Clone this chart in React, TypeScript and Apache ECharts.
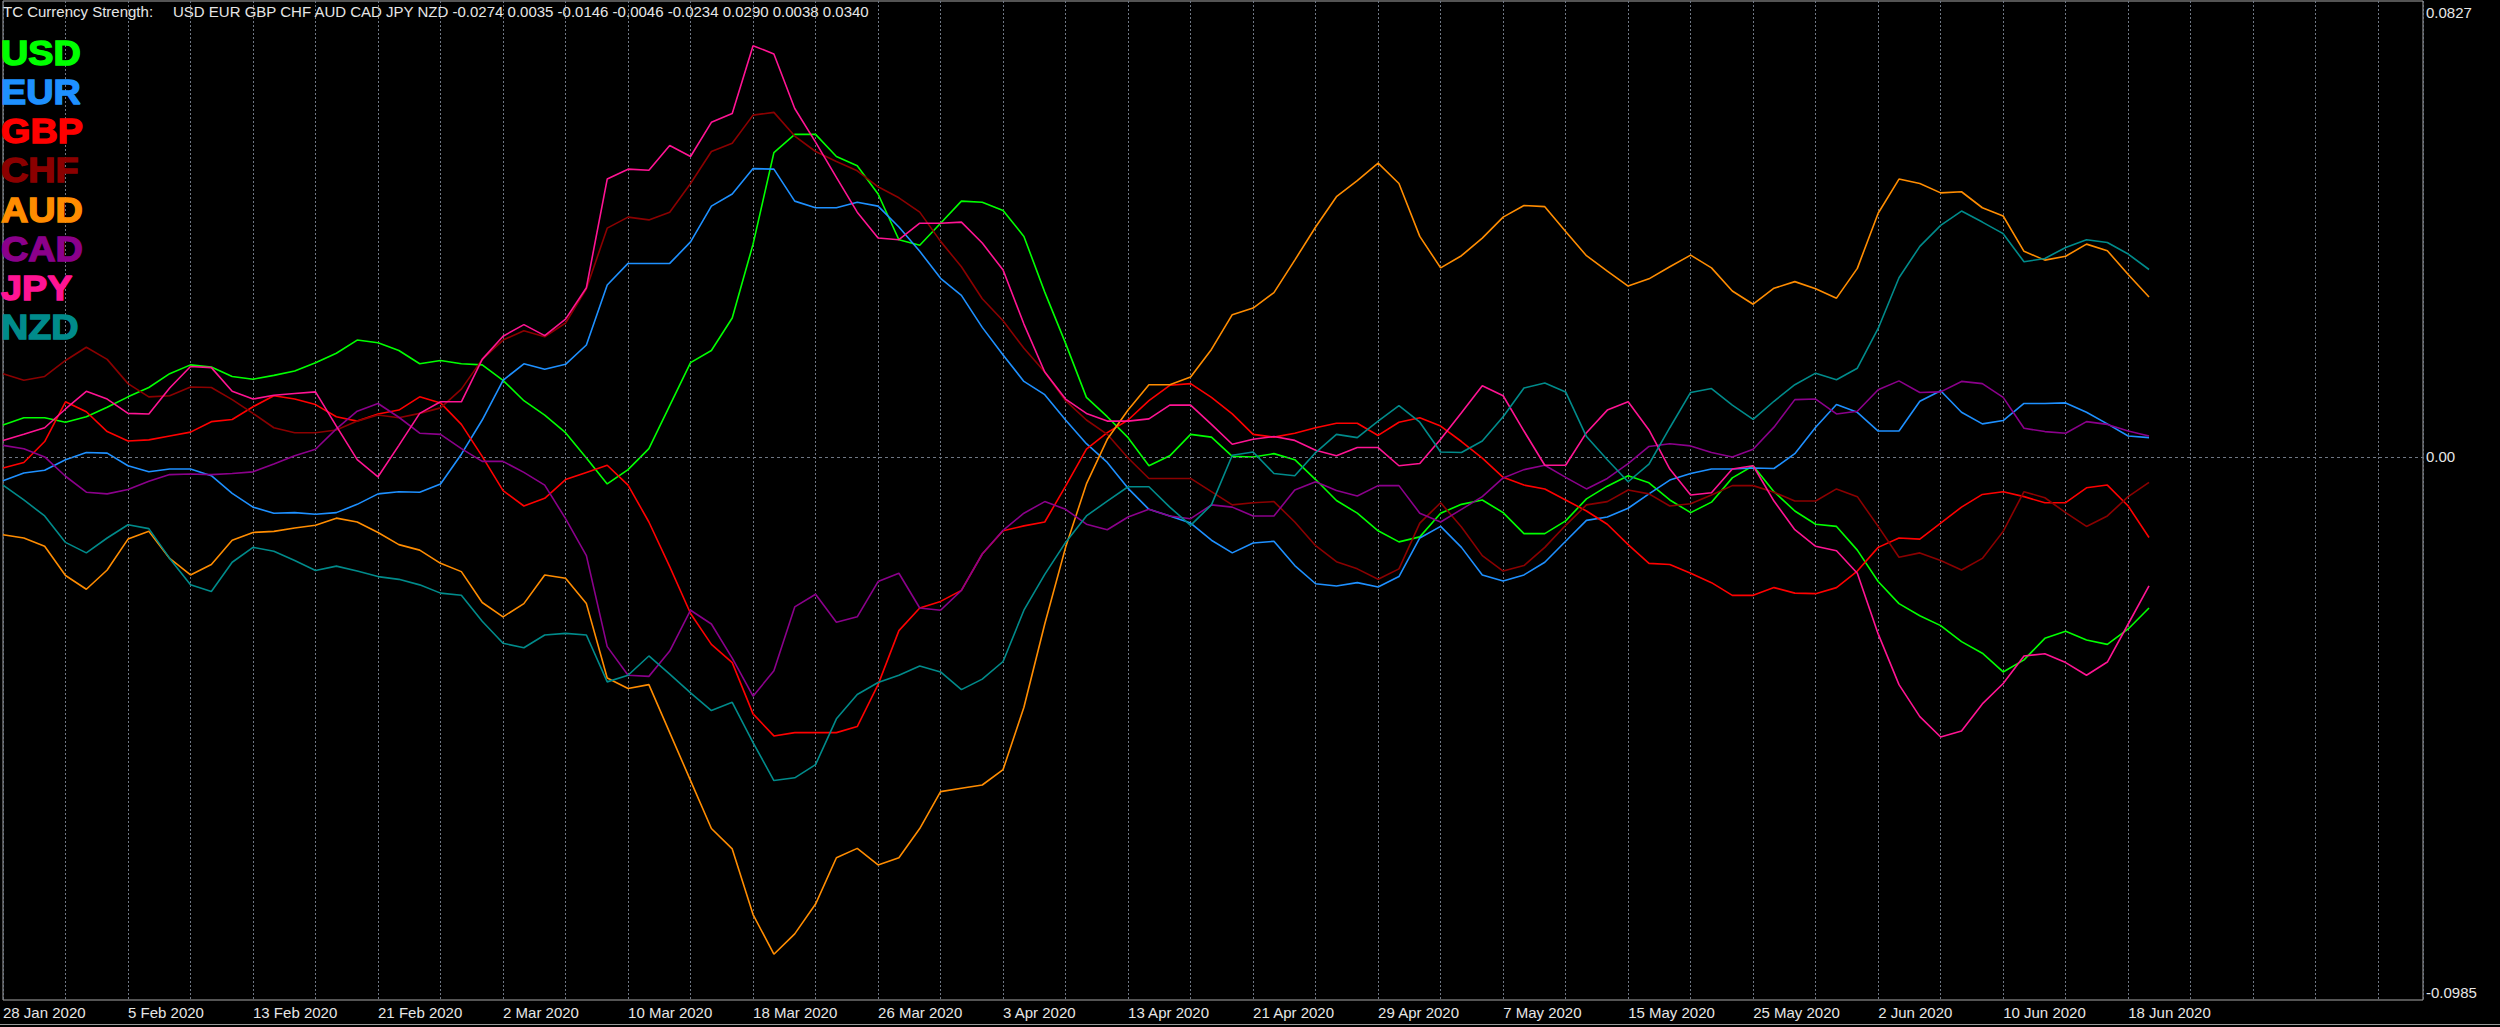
import React, { useEffect, useRef } from "react";
import * as echarts from "echarts";

const dateLabels = [
  "28 Jan 2020", "5 Feb 2020", "13 Feb 2020", "21 Feb 2020", "2 Mar 2020", "10 Mar 2020",
  "18 Mar 2020", "26 Mar 2020", "3 Apr 2020", "13 Apr 2020", "21 Apr 2020", "29 Apr 2020",
  "7 May 2020", "15 May 2020", "25 May 2020", "2 Jun 2020", "10 Jun 2020", "18 Jun 2020",
];

const currencies = ["USD", "EUR", "GBP", "CHF", "AUD", "CAD", "JPY", "NZD"];
const colors = ["#00FF00", "#1E90FF", "#FF0000", "#8B0000", "#FF8C00", "#8B008B", "#FF1493", "#008B8B"];
const headerTitle = "TC Currency Strength:";
const headerValues = "USD EUR GBP CHF AUD CAD JPY NZD -0.0274 0.0035 -0.0146 -0.0046 -0.0234 0.0290 0.0038 0.0340";

const usd = [0.0058, 0.0071, 0.0071, 0.0063, 0.0073, 0.0090, 0.0109, 0.0126, 0.0151, 0.0167,
  0.0163, 0.0146, 0.0141, 0.0148, 0.0156, 0.0171, 0.0188, 0.0212, 0.0207, 0.0193,
  0.0169, 0.0175, 0.0169, 0.0167, 0.0139, 0.0102, 0.0076, 0.0044, -0.0002, -0.0049,
  -0.0023, 0.0015, 0.0093, 0.0171, 0.0193, 0.0252, 0.0386, 0.0552, 0.0585, 0.0585,
  0.0545, 0.0528, 0.0477, 0.0394, 0.0384, 0.0424, 0.0464, 0.0462, 0.0447, 0.0400,
  0.0299, 0.0206, 0.0108, 0.0073, 0.0035, -0.0016, 0.0002, 0.0041, 0.0036, 0.0001,
  0.0000, 0.0006, -0.0005, -0.0041, -0.0079, -0.0102, -0.0134, -0.0154, -0.0145, -0.0102,
  -0.0086, -0.0078, -0.0101, -0.0139, -0.0139, -0.0116, -0.0076, -0.0053, -0.0034, -0.0047,
  -0.0078, -0.0101, -0.0082, -0.0038, -0.0016, -0.0063, -0.0098, -0.0122, -0.0126, -0.0169,
  -0.0226, -0.0266, -0.0288, -0.0306, -0.0335, -0.0356, -0.0390, -0.0368, -0.0329, -0.0316,
  -0.0332, -0.0340, -0.0312, -0.0274];

const eur = [-0.0043, -0.0029, -0.0024, -0.0005, 0.0008, 0.0007, -0.0016, -0.0027, -0.0022, -0.0022,
  -0.0034, -0.0066, -0.0091, -0.0102, -0.0101, -0.0104, -0.0101, -0.0086, -0.0067, -0.0063,
  -0.0064, -0.0049, 0.0005, 0.0067, 0.0139, 0.0169, 0.0159, 0.0168, 0.0203, 0.0312,
  0.0351, 0.0351, 0.0351, 0.0390, 0.0455, 0.0477, 0.0523, 0.0522, 0.0464, 0.0452,
  0.0452, 0.0462, 0.0455, 0.0417, 0.0373, 0.0324, 0.0293, 0.0235, 0.0185, 0.0137,
  0.0113, 0.0067, 0.0024, -0.0010, -0.0057, -0.0095, -0.0107, -0.0120, -0.0151, -0.0174,
  -0.0156, -0.0153, -0.0197, -0.0230, -0.0234, -0.0228, -0.0236, -0.0217, -0.0147, -0.0126,
  -0.0164, -0.0214, -0.0225, -0.0214, -0.0191, -0.0153, -0.0115, -0.0109, -0.0093, -0.0067,
  -0.0042, -0.0030, -0.0022, -0.0022, -0.0020, -0.0021, 0.0006, 0.0054, 0.0095, 0.0081,
  0.0047, 0.0047, 0.0101, 0.0120, 0.0081, 0.0060, 0.0066, 0.0097, 0.0097, 0.0098,
  0.0081, 0.0060, 0.0038, 0.0035];

const gbp = [-0.0020, -0.0010, 0.0028, 0.0100, 0.0082, 0.0046, 0.0029, 0.0031, 0.0038, 0.0045,
  0.0064, 0.0068, 0.0091, 0.0111, 0.0105, 0.0095, 0.0073, 0.0065, 0.0078, 0.0085,
  0.0109, 0.0098, 0.0059, 0.0001, -0.0061, -0.0089, -0.0075, -0.0041, -0.0028, -0.0015,
  -0.0051, -0.0118, -0.0199, -0.0284, -0.0340, -0.0373, -0.0466, -0.0506, -0.0500, -0.0500,
  -0.0500, -0.0489, -0.0413, -0.0315, -0.0274, -0.0262, -0.0242, -0.0176, -0.0134, -0.0125,
  -0.0118, -0.0053, 0.0014, 0.0044, 0.0067, 0.0102, 0.0130, 0.0133, 0.0108, 0.0078,
  0.0041, 0.0036, 0.0043, 0.0053, 0.0061, 0.0061, 0.0039, 0.0063, 0.0071, 0.0056,
  0.0028, -0.0002, -0.0037, -0.0051, -0.0058, -0.0078, -0.0098, -0.0122, -0.0159, -0.0193,
  -0.0195, -0.0211, -0.0228, -0.0251, -0.0251, -0.0237, -0.0247, -0.0248, -0.0237, -0.0207,
  -0.0164, -0.0147, -0.0149, -0.0120, -0.0091, -0.0068, -0.0063, -0.0072, -0.0083, -0.0083,
  -0.0056, -0.0051, -0.0089, -0.0146];

const chf = [0.0151, 0.0139, 0.0146, 0.0175, 0.0199, 0.0177, 0.0133, 0.0109, 0.0111, 0.0127,
  0.0126, 0.0104, 0.0079, 0.0053, 0.0044, 0.0044, 0.0049, 0.0065, 0.0076, 0.0071,
  0.0079, 0.0089, 0.0123, 0.0177, 0.0212, 0.0229, 0.0218, 0.0243, 0.0305, 0.0415,
  0.0435, 0.0430, 0.0444, 0.0496, 0.0554, 0.0569, 0.0620, 0.0625, 0.0582, 0.0554,
  0.0536, 0.0519, 0.0490, 0.0470, 0.0444, 0.0391, 0.0345, 0.0287, 0.0247, 0.0197,
  0.0154, 0.0102, 0.0067, 0.0041, -0.0002, -0.0039, -0.0039, -0.0039, -0.0063, -0.0087,
  -0.0083, -0.0081, -0.0118, -0.0161, -0.0190, -0.0203, -0.0222, -0.0203, -0.0120, -0.0083,
  -0.0127, -0.0179, -0.0207, -0.0197, -0.0164, -0.0124, -0.0087, -0.0081, -0.0060, -0.0067,
  -0.0089, -0.0085, -0.0069, -0.0052, -0.0052, -0.0064, -0.0080, -0.0080, -0.0058, -0.0072,
  -0.0126, -0.0182, -0.0174, -0.0188, -0.0205, -0.0184, -0.0135, -0.0063, -0.0074, -0.0101,
  -0.0126, -0.0107, -0.0072, -0.0046];

const aud = [-0.0141, -0.0147, -0.0162, -0.0215, -0.0240, -0.0205, -0.0149, -0.0135, -0.0184, -0.0214,
  -0.0195, -0.0151, -0.0137, -0.0135, -0.0129, -0.0124, -0.0111, -0.0118, -0.0137, -0.0159,
  -0.0169, -0.0193, -0.0208, -0.0264, -0.0290, -0.0266, -0.0214, -0.0220, -0.0266, -0.0401,
  -0.0420, -0.0413, -0.0500, -0.0587, -0.0674, -0.0711, -0.0830, -0.0902, -0.0865, -0.0811,
  -0.0727, -0.0710, -0.0740, -0.0727, -0.0674, -0.0607, -0.0601, -0.0595, -0.0567, -0.0454,
  -0.0303, -0.0164, -0.0049, 0.0032, 0.0085, 0.0131, 0.0131, 0.0145, 0.0195, 0.0258,
  0.0270, 0.0298, 0.0357, 0.0417, 0.0472, 0.0501, 0.0533, 0.0496, 0.0400, 0.0343,
  0.0365, 0.0397, 0.0435, 0.0456, 0.0454, 0.0409, 0.0365, 0.0337, 0.0310, 0.0323,
  0.0345, 0.0366, 0.0343, 0.0301, 0.0277, 0.0306, 0.0318, 0.0305, 0.0288, 0.0342,
  0.0442, 0.0504, 0.0496, 0.0479, 0.0481, 0.0452, 0.0437, 0.0373, 0.0357, 0.0364,
  0.0386, 0.0374, 0.0331, 0.0290];

const cad = [0.0021, 0.0015, 0.0000, -0.0035, -0.0064, -0.0067, -0.0059, -0.0044, -0.0032, -0.0031,
  -0.0032, -0.0030, -0.0027, -0.0013, 0.0002, 0.0014, 0.0051, 0.0083, 0.0097, 0.0072,
  0.0043, 0.0041, 0.0015, -0.0008, -0.0008, -0.0028, -0.0051, -0.0112, -0.0179, -0.0344,
  -0.0396, -0.0398, -0.0352, -0.0278, -0.0303, -0.0365, -0.0434, -0.0388, -0.0272, -0.0249,
  -0.0300, -0.0290, -0.0226, -0.0211, -0.0274, -0.0278, -0.0242, -0.0176, -0.0133, -0.0102,
  -0.0081, -0.0095, -0.0122, -0.0132, -0.0109, -0.0095, -0.0107, -0.0112, -0.0087, -0.0091,
  -0.0107, -0.0107, -0.0060, -0.0045, -0.0061, -0.0071, -0.0052, -0.0052, -0.0102, -0.0118,
  -0.0095, -0.0072, -0.0038, -0.0023, -0.0015, -0.0037, -0.0058, -0.0039, -0.0012, 0.0019,
  0.0024, 0.0020, 0.0008, 0.0000, 0.0014, 0.0054, 0.0104, 0.0105, 0.0078, 0.0083,
  0.0122, 0.0138, 0.0117, 0.0118, 0.0137, 0.0133, 0.0108, 0.0052, 0.0046, 0.0043,
  0.0064, 0.0059, 0.0047, 0.0038];

const jpy = [0.0030, 0.0041, 0.0053, 0.0087, 0.0119, 0.0105, 0.0079, 0.0078, 0.0125, 0.0164,
  0.0162, 0.0119, 0.0105, 0.0112, 0.0115, 0.0118, 0.0056, -0.0005, -0.0036, 0.0021,
  0.0079, 0.0100, 0.0100, 0.0177, 0.0219, 0.0240, 0.0220, 0.0250, 0.0307, 0.0504,
  0.0522, 0.0520, 0.0565, 0.0545, 0.0607, 0.0623, 0.0746, 0.0731, 0.0632, 0.0571,
  0.0507, 0.0444, 0.0397, 0.0394, 0.0424, 0.0424, 0.0426, 0.0388, 0.0339, 0.0241,
  0.0154, 0.0105, 0.0079, 0.0065, 0.0065, 0.0069, 0.0094, 0.0094, 0.0059, 0.0023,
  0.0032, 0.0037, 0.0030, 0.0012, 0.0002, 0.0017, 0.0017, -0.0016, -0.0012, 0.0032,
  0.0080, 0.0129, 0.0111, 0.0047, -0.0015, -0.0015, 0.0044, 0.0085, 0.0100, 0.0049,
  -0.0022, -0.0069, -0.0065, -0.0022, -0.0016, -0.0080, -0.0132, -0.0162, -0.0170, -0.0211,
  -0.0321, -0.0413, -0.0471, -0.0508, -0.0497, -0.0448, -0.0411, -0.0361, -0.0357, -0.0373,
  -0.0396, -0.0372, -0.0303, -0.0234];

const nzd = [-0.0051, -0.0078, -0.0107, -0.0155, -0.0174, -0.0147, -0.0123, -0.0130, -0.0184, -0.0232,
  -0.0244, -0.0191, -0.0164, -0.0171, -0.0188, -0.0206, -0.0198, -0.0207, -0.0217, -0.0222,
  -0.0232, -0.0247, -0.0251, -0.0298, -0.0338, -0.0346, -0.0323, -0.0320, -0.0323, -0.0408,
  -0.0396, -0.0361, -0.0394, -0.0428, -0.0460, -0.0445, -0.0518, -0.0587, -0.0582, -0.0558,
  -0.0475, -0.0431, -0.0409, -0.0396, -0.0379, -0.0390, -0.0422, -0.0403, -0.0371, -0.0278,
  -0.0213, -0.0155, -0.0107, -0.0080, -0.0054, -0.0054, -0.0091, -0.0124, -0.0087, 0.0003,
  0.0009, -0.0030, -0.0034, 0.0008, 0.0041, 0.0035, 0.0065, 0.0093, 0.0063, 0.0009,
  0.0008, 0.0029, 0.0073, 0.0125, 0.0134, 0.0118, 0.0037, -0.0005, -0.0045, -0.0013,
  0.0053, 0.0117, 0.0124, 0.0094, 0.0068, 0.0101, 0.0131, 0.0152, 0.0140, 0.0161,
  0.0233, 0.0325, 0.0382, 0.0420, 0.0446, 0.0426, 0.0405, 0.0354, 0.0360, 0.0380,
  0.0394, 0.0389, 0.0368, 0.0340];

const yMin = -0.0985;
const yMax = 0.0827;
const xMax = 116.15;
const FONT = '"Liberation Sans", Arial, sans-serif';
const TEXT = "#e6e6e6";
const GRIDC = "#6f7784";

export default function App() {
  const ref = useRef<HTMLDivElement>(null);
  useEffect(() => {
    document.body.style.margin = "0";
    document.body.style.background = "#000";
    const chart = echarts.init(ref.current as HTMLDivElement, null, { renderer: "svg" });
    const all = [usd, eur, gbp, chf, aud, cad, jpy, nzd];

    const series: any[] = all.map((arr, idx) => ({
      type: "line",
      name: currencies[idx],
      data: arr.map((v, i) => [i, v]),
      showSymbol: false,
      symbol: "none",
      z: 3 + idx,
      lineStyle: { width: 1.6, color: colors[idx] },
      itemStyle: { color: colors[idx] },
      emphasis: { disabled: true },
    }));
    series[0].markLine = {
      silent: true,
      symbol: ["none", "none"],
      label: { show: false },
      lineStyle: { color: GRIDC, type: [3, 3], width: 1 },
      data: [{ yAxis: 0 }],
    };

    const graphic: any[] = [
      {
        type: "text",
        x: 3,
        y: 11,
        style: { text: headerTitle, fill: TEXT, font: `15px ${FONT}`, verticalAlign: "middle", textVerticalAlign: "middle" },
      },
      {
        type: "text",
        x: 173,
        y: 11,
        style: { text: headerValues, fill: TEXT, font: `15px ${FONT}`, verticalAlign: "middle", textVerticalAlign: "middle" },
      },
      {
        type: "line",
        shape: { x1: 0, y1: 1024.5, x2: 2500, y2: 1024.5 },
        style: { stroke: "#9a9a9a", lineWidth: 1 },
      },
    ];
    currencies.forEach((c, i) => {
      graphic.push({
        type: "text",
        x: 1,
        y: 53 + i * 39.15,
        scaleX: 1.08,
        z: 100,
        style: {
          text: c,
          fill: colors[i],
          stroke: colors[i],
          lineWidth: 1.4,
          font: `bold 35px ${FONT}`,
          verticalAlign: "middle",
          textVerticalAlign: "middle",
        },
      });
    });

    chart.setOption({
      animation: false,
      backgroundColor: "#000000",
      grid: {
        left: 0,
        top: 1,
        right: 77,
        bottom: 27,
        show: true,
        borderColor: "#a8a8a8",
        borderWidth: 1,
        backgroundColor: "#000000",
      },
      xAxis: {
        type: "value",
        min: 0,
        max: xMax,
        interval: 3,
        axisLine: { show: false },
        axisTick: { show: false },
        splitLine: { show: true, lineStyle: { color: GRIDC, type: [2, 2], width: 1 } },
        axisLabel: {
          show: true,
          color: TEXT,
          fontSize: 15,
          fontFamily: FONT,
          align: "left",
          margin: 5,
          showMinLabel: true,
          showMaxLabel: true,
          hideOverlap: false,
          formatter: (v: number) => {
            const i = Math.round(v);
            if (Math.abs(v - i) > 1e-6 || i % 6 !== 0) return "";
            return dateLabels[i / 6] ?? "";
          },
        },
      },
      yAxis: {
        type: "value",
        position: "right",
        min: yMin,
        max: yMax,
        interval: 0.0985,
        axisLine: { show: false },
        axisTick: { show: false },
        splitLine: { show: false },
        axisLabel: {
          show: true,
          margin: 3,
          color: TEXT,
          fontSize: 15,
          fontFamily: FONT,
          showMinLabel: true,
          showMaxLabel: true,
          formatter: (v: number) => {
            if (Math.abs(v) < 1e-9) return "{m|0.00}";
            if (Math.abs(v - yMax) < 1e-9) return "{t|" + yMax.toFixed(4) + "}";
            return "{b|" + v.toFixed(4) + "}";
          },
          rich: {
            m: { fontSize: 15, fontFamily: FONT, color: TEXT },
            t: { fontSize: 15, fontFamily: FONT, color: TEXT, padding: [22, 0, 0, 0] },
            b: { fontSize: 15, fontFamily: FONT, color: TEXT, padding: [0, 0, 16, 0] },
          },
        },
      },
      graphic,
      series,
    });
    return () => chart.dispose();
  }, []);
  return (
    <div
      ref={ref}
      style={{ position: "absolute", left: 0, top: 0, width: 2500, height: 1027, background: "#000" }}
    />
  );
}
